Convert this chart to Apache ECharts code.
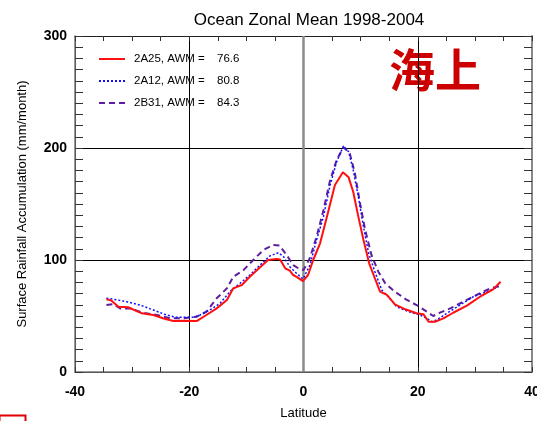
<!DOCTYPE html>
<html>
<head>
<meta charset="utf-8">
<script src="https://cdn.jsdelivr.net/npm/echarts@6/dist/echarts.min.js"></script>
<style>
  html, body { margin: 0; padding: 0; background: #fff; }
  #chart { width: 537px; height: 421px; }
</style>
</head>
<body>
<div id="chart"></div>
<script>
// 2A25 (TRMM PR)
const lat2A25 = [-34.5, -33.6, -32.4, -30.7, -28.3, -26.3, -24.6, -22.8, -21.0, -18.7, -17.0, -15.2, -13.4, -12.3, -10.8, -9.4, -7.6, -6.2, -4.7, -4.1, -3.2, -2.4, -1.8, -1.2, -0.1, 0.8, 1.7, 2.9, 4.1, 5.5, 6.9, 7.9, 8.7, 9.6, 10.5, 11.5, 12.5, 13.4, 14.6, 16.0, 17.8, 19.8, 21.0, 21.9, 23.0, 24.5, 26.2, 28.6, 30.9, 33.2, 34.5];
const val2A25 = [65, 63.7, 58.3, 57.8, 52.4, 50.9, 48, 45.5, 45.8, 45.5, 50.9, 56.8, 64.3, 74.7, 77.7, 85, 93.5, 100, 101, 100.5, 92.6, 90.5, 86.6, 85, 81.2, 86.6, 100, 114.9, 138.7, 167, 178.3, 173.8, 161, 138.7, 117.9, 97, 83.6, 71.7, 68.8, 60.4, 56, 52.4, 51.5, 44.9, 44.9, 47.9, 52.9, 59.2, 67.2, 73.8, 80.6];

// 2A12 (TMI)
const lat2A12 = [-34.5, -33.3, -31.0, -28.6, -26.3, -24.0, -22.2, -19.3, -18.1, -16.4, -14.6, -12.9, -11.1, -9.4, -7.6, -5.9, -4.4, -3.5, -2.4, -1.2, -0.1, 1.1, 2.3, 3.5, 4.6, 5.8, 7.0, 7.9, 8.7, 9.6, 10.5, 11.4, 12.5, 13.7, 15.1, 16.3, 18.4, 20.4, 21.6, 22.5, 23.3, 25.1, 27.4, 29.7, 32.1, 34.1];
const val2A12 = [65.8, 65, 62.8, 59.8, 55.4, 50.9, 48.8, 48.8, 50.9, 55.4, 61.3, 71.7, 79.2, 86.6, 95.5, 103.6, 106.5, 103, 94, 88, 83, 95, 118, 138.7, 165.5, 187.8, 201.8, 196.7, 180.4, 156.5, 129.7, 106, 89.6, 73.2, 65.8, 58.3, 53.8, 50.9, 47.9, 44.9, 46.4, 52.4, 59.8, 67.2, 71.7, 76.2];

// 2B31 (combined)
const lat2B31 = [-34.5, -33.3, -32.1, -30.4, -28.1, -25.7, -23.4, -21.1, -18.7, -17.0, -15.2, -13.4, -12.3, -10.5, -8.8, -7.0, -5.3, -4.2, -2.9, -1.8, -0.9, 0, 1.1, 2.3, 3.5, 4.6, 5.8, 7.0, 8.1, 9.0, 9.9, 10.8, 11.9, 13.1, 14.3, 16.0, 18.1, 19.8, 21.6, 22.7, 23.9, 25.7, 28.0, 30.3, 32.7, 34.4];
const val2B31 = [59.8, 60.7, 56.8, 56.8, 53, 50.9, 48, 48, 49.4, 53.8, 65.8, 74.7, 85, 91, 100, 109, 113.4, 113, 104, 95.5, 92.6, 91, 101.5, 121, 144.6, 170, 189.3, 200.6, 195.2, 177.4, 150.6, 126.8, 104.5, 89.6, 79.2, 71.7, 64.3, 59.8, 53.8, 50, 53, 56.8, 62.8, 68.8, 74.7, 76.8];

const seriesNames = ['2A25', '2A12', '2B31'];
const awmValues = ['76.6', '80.8', '84.3'];

const zip = (xs, ys) => xs.map((x, i) => [x, ys[i]]);

const chart = echarts.init(document.getElementById('chart'));
const font = 'Liberation Sans';

const option = {
  animation: false,
  textStyle: { fontFamily: font },
  title: {
    text: 'Ocean Zonal Mean 1998-2004',
    left: 304,
    textAlign: 'center',
    top: 7,
    textStyle: { fontFamily: font, fontSize: 17, fontWeight: 'normal', color: '#000' }
  },
  grid: { left: 75, right: 5, top: 36, bottom: 49, containLabel: false, outerBoundsMode: 'none' },
  legend: {
    orient: 'vertical',
    left: 93,
    top: 48,
    itemWidth: 26,
    itemHeight: 12,
    itemGap: 10,
    data: seriesNames,
    itemStyle: { opacity: 0 },
    formatter: function (name) {
      const i = seriesNames.indexOf(name);
      return '{a|' + name + ', AWM =}{b|' + awmValues[i] + '}';
    },
    textStyle: {
      fontFamily: font,
      fontSize: 11,
      color: '#000',
      rich: {
        a: { fontFamily: font, fontSize: 11.5, width: 83, padding: [0, 0, 0, 4] },
        b: { fontFamily: font, fontSize: 11.5 }
      }
    }
  },
  xAxis: [{
    type: 'value',
    min: -40, max: 40, interval: 20,
    name: 'Latitude',
    nameLocation: 'middle',
    nameGap: 35,
    nameTextStyle: { fontFamily: font, fontSize: 13, color: '#000' },
    axisLine: { show: true, onZero: false, lineStyle: { color: '#777', width: 1.5 } },
    axisTick: { show: true, inside: true, length: 5, lineStyle: { color: '#333' } },
    minorTick: { show: true, splitNumber: 4, length: 5, lineStyle: { color: '#333' } },
    axisLabel: { fontFamily: font, fontSize: 14, fontWeight: 'bold', color: '#000', margin: 13 },
    splitLine: { show: true, lineStyle: { color: '#000', width: 1 } }
  }, {
    type: 'value',
    position: 'top',
    min: -40, max: 40, interval: 20,
    axisLine: { show: true, onZero: false, lineStyle: { color: '#222', width: 1 } },
    axisTick: { show: true, inside: true, length: 5, lineStyle: { color: '#333' } },
    minorTick: { show: true, splitNumber: 4, length: 5, lineStyle: { color: '#333' } },
    axisLabel: { show: false },
    splitLine: { show: false }
  }],
  yAxis: [{
    type: 'value',
    min: 0, max: 300, interval: 100,
    name: 'Surface Rainfall Accumulation (mm/month)',
    nameLocation: 'middle',
    nameGap: 46,
    nameTextStyle: { fontFamily: font, fontSize: 13, color: '#000' },
    axisLine: { show: true, onZero: false, lineStyle: { color: '#777', width: 1.5 } },
    axisTick: { show: true, inside: true, length: 8, lineStyle: { color: '#333' } },
    minorTick: { show: true, splitNumber: 10, length: 8, lineStyle: { color: '#333' } },
    axisLabel: { fontFamily: font, fontSize: 14, fontWeight: 'bold', color: '#000', margin: 8 },
    splitLine: { show: true, lineStyle: { color: '#000', width: 1 } }
  }, {
    type: 'value',
    position: 'right',
    min: 0, max: 300, interval: 100,
    axisLine: { show: true, onZero: false, lineStyle: { color: '#888', width: 2 } },
    axisTick: { show: true, inside: true, length: 8, lineStyle: { color: '#333' } },
    minorTick: { show: true, splitNumber: 10, length: 8, lineStyle: { color: '#333' } },
    axisLabel: { show: false },
    splitLine: { show: false }
  }],
  series: [
    {
      name: '2B31',
      type: 'line',
      data: zip(lat2B31, val2B31),
      symbol: 'none',
      color: '#5e1f9e',
      lineStyle: { color: '#5e1f9e', width: 2, type: [6, 4] },
      z: 3
    },
    {
      name: '2A12',
      type: 'line',
      data: zip(lat2A12, val2A12),
      symbol: 'none',
      color: '#1010ff',
      lineStyle: { color: '#1010ff', width: 1.5, type: [2, 2] },
      z: 4
    },
    {
      name: '2A25',
      type: 'line',
      data: zip(lat2A25, val2A25),
      symbol: 'none',
      color: '#ff1010',
      lineStyle: { color: '#ff1010', width: 2 },
      z: 5,
      markLine: {
        silent: true,
        symbol: 'none',
        label: { show: false },
        lineStyle: { color: '#8a8a8a', width: 2.5, type: 'solid' },
        data: [{ xAxis: 0 }],
        z: 1
      }
    }
  ],
  graphic: [
    {
      type: 'text',
      left: 389,
      top: 47,
      style: {
        text: '海上',
        fontFamily: 'Noto Sans CJK SC',
        fontSize: 46,
        fontWeight: 'bold',
        fill: '#cc0000'
      }
    },
    {
      type: 'rect',
      left: -3,
      top: 413,
      shape: { width: 26, height: 20 },
      style: { fill: 'none', stroke: '#e00000', lineWidth: 2 }
    }
  ]
};

chart.setOption(option);
</script>
</body>
</html>
